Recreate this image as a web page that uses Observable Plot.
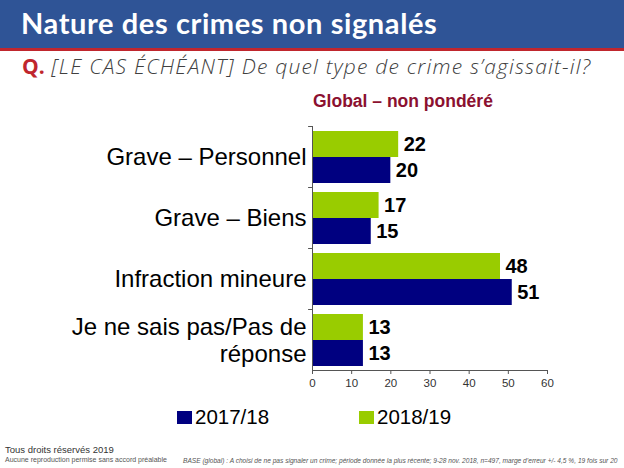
<!DOCTYPE html>
<html><head><meta charset="utf-8">
<script src="https://cdn.jsdelivr.net/npm/d3@7"></script>
<script src="https://cdn.jsdelivr.net/npm/@observablehq/plot@0.6"></script>
<style>
body{margin:0;width:624px;height:468px;position:relative;background:#fff;overflow:hidden;font-family:"Liberation Sans",Arial,sans-serif;}
.abs{position:absolute;white-space:nowrap;}
#hdr{left:0;top:0;width:624px;height:48px;background:#2F5496;border-bottom:3px solid #C0262D;}
#title{left:21px;top:5px;color:#fff;font-family:"Lato","Open Sans",sans-serif;font-weight:bold;font-size:29px;letter-spacing:0.6px;}
#sub{left:22px;top:52px;font-family:"Open Sans","Lato",sans-serif;font-style:italic;font-weight:300;font-size:21px;letter-spacing:1.2px;color:#404040;}
#sub b{color:#C0262D;font-style:normal;font-weight:bold;letter-spacing:0;}
#glob{left:313px;top:91px;color:#8B1030;font-weight:bold;font-size:17.5px;}
#chart{left:0;top:90px;}
.leg{top:406px;font-size:20.5px;color:#000;line-height:22px;}
.sw{display:inline-block;width:15px;height:13px;margin-right:3px;vertical-align:0px;}
#f1{left:5px;top:444px;font-size:9.5px;color:#333;}
#f2{left:5px;top:456px;font-size:7px;color:#555;}
#f3{left:183px;top:457px;font-size:6.6px;font-style:italic;color:#555;}
</style></head>
<body>
<div id="hdr" class="abs"></div>
<div id="title" class="abs">Nature des crimes non signalés</div>
<div id="sub" class="abs"><b>Q.</b> [LE CAS ÉCHÉANT] De quel type de crime s’agissait-il?</div>
<div id="glob" class="abs">Global – non pondéré</div>
<div id="chart" class="abs"></div>
<div class="abs leg" style="left:177px"><span class="sw" style="background:#000080"></span>2017/18</div>
<div class="abs leg" style="left:359px"><span class="sw" style="background:#99CC00"></span>2018/19</div>
<div id="f1" class="abs">Tous droits réservés 2019</div>
<div id="f2" class="abs">Aucune reproduction permise sans accord préalable</div>
<div id="f3" class="abs">BASE (global) : A choisi de ne pas signaler un crime; période donnée la plus récente; 9-28 nov. 2018, n=497, marge d’erreur +/- 4,5 %, 19 fois sur 20</div>
<script>
const categories = ["Grave – Personnel", "Grave – Biens", "Infraction mineure", "Je ne sais pas/Pas de réponse"];
const categoryLabels = ["Grave – Personnel", "Grave – Biens", "Infraction mineure", "Je ne sais pas/Pas de\nréponse"];
const series = ["2017/18", "2018/19"];
const values2017 = [20, 15, 51, 13];
const values2018 = [22, 17, 48, 13];
const xTicks = [0, 10, 20, 30, 40, 50, 60];
const colors = {"2017/18": "#000080", "2018/19": "#99CC00"};

const d17 = categories.map((c, i) => ({category: c, value: values2017[i]}));
const d18 = categories.map((c, i) => ({category: c, value: values2018[i]}));

const plot = Plot.plot({
  width: 624, height: 310,
  marginTop: 36, marginBottom: 30, marginLeft: 312, marginRight: 77,
  style: {fontFamily: "Liberation Sans, Arial, sans-serif", background: "transparent"},
  x: {domain: [0, 60], ticks: xTicks, axis: null, label: null},
  y: {domain: categories, padding: 0, axis: null, label: null},
  marks: [
    Plot.barX(d18, {x: "value", y: "category", fill: colors["2018/19"], insetTop: 5, insetBottom: 30}),
    Plot.barX(d17, {x: "value", y: "category", fill: colors["2017/18"], insetTop: 31, insetBottom: 4}),
    Plot.text(d18, {x: "value", y: "category", text: d => String(d.value), dy: -12.5, dx: 5, textAnchor: "start", fontSize: 20, fontWeight: "bold", fill: "#000"}),
    Plot.text(d17, {x: "value", y: "category", text: d => String(d.value), dy: 13.5, dx: 5, textAnchor: "start", fontSize: 20, fontWeight: "bold", fill: "#000"}),
    Plot.text(categories, {x: 0, y: d => d, text: (d, i) => categoryLabels[i], dx: -6, textAnchor: "end", fontSize: 24, lineHeight: 1.1, fill: "#000"}),
    Plot.ruleX([0], {stroke: "#555"}),
    Plot.ruleY(categories, {y: d => d, dy: -30.5, x1: -1, x2: 0, stroke: "#555"}),
    Plot.ruleY([categories[categories.length - 1]], {y: d => d, dy: 30.5, x1: 0, x2: 60, stroke: "#555"}),
    Plot.axisX({anchor: "bottom", ticks: xTicks, tickSize: 4, tickPadding: 4, fontSize: 11.5, stroke: "#555", fill: "#333", label: null})
  ]
});
document.getElementById("chart").appendChild(plot);
</script>
</body></html>
